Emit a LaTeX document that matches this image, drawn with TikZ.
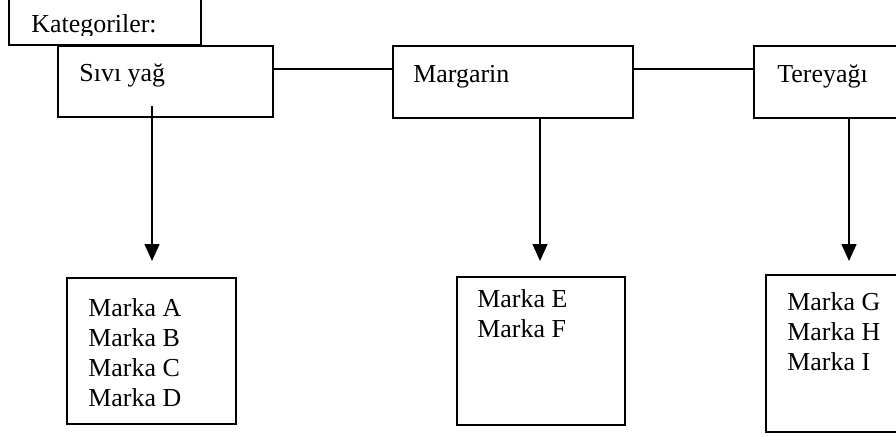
\documentclass[tikz,border=0pt]{standalone}
\usepackage{fontspec}
\setmainfont{Liberation Serif}
\usetikzlibrary{arrows.meta,fit,calc}
\tikzstyle{kutu}=[draw,line width=0.9pt,rectangle,inner sep=0pt]
\tikzstyle{yazi}=[inner sep=0pt,font=\fontsize{12pt}{13.9pt}\selectfont,align=left]
\tikzstyle{cizgi}=[line width=0.9pt]
\tikzstyle{ok}=[line width=0.9pt,-{Triangle[length=7.8pt,width=6.8pt]}]

\begin{document}
\begin{tikzpicture}[x=0.463pt,y=-0.463pt]
    \useasboundingbox (0,0) rectangle (896,437);
    \clip (0,0) rectangle (896,437);
    % kategoriler
    \node[kutu,fit={(9,-20) (201,45)}] (kat) {};
    \node[kutu,fit={(58,46) (273,117)}] (sivi) {};
    \node[kutu,fit={(393,46) (633,118)}] (marg) {};
    \node[kutu,fit={(754,46) (920,118)}] (tere) {};
    % markalar
    \node[kutu,fit={(67,278) (236,424)}] (mAD) {};
    \node[kutu,fit={(457,277) (625,425)}] (mEF) {};
    \node[kutu,fit={(766,275) (920,432)}] (mGI) {};

    \begin{scope}
        \clip (0,0) rectangle (896,36);
        \node[yazi,anchor=base west] (tkat) at (31,33) {Kategoriler:};
    \end{scope}
    \node[yazi,anchor=base west] (tsivi) at (79,82) {Sıvı yağ};
    \node[yazi,anchor=base west] (tmarg) at (413,83) {Margarin};
    \node[yazi,anchor=base west] (ttere) at (777,83) {Tereyağı};
    \node[yazi,anchor=north west] (tAD) at (88,298) {Marka A\\Marka B\\Marka C\\Marka D};
    \node[yazi,anchor=north west] (tEF) at (477,289) {Marka E\\Marka F};
    \node[yazi,anchor=north west] (tGI) at (787,292) {Marka G\\Marka H\\Marka I};

    \foreach \from/\to in {sivi/marg,marg/tere}
    \draw[cizgi] ($(\from.north east)+(0,24)$) -- ($(\to.north west)+(0,24)$);
    \draw[ok] ($(sivi.south west)+(95,-12)$) -- ($(mAD.north west)+(86,-16)$);
    \draw[ok] ($(marg.south west)+(148,0)$) -- ($(mEF.north west)+(84,-15)$);
    \draw[ok] ($(tere.south west)+(96,0)$) -- ($(mGI.north west)+(84,-13)$);
\end{tikzpicture}
\end{document}
